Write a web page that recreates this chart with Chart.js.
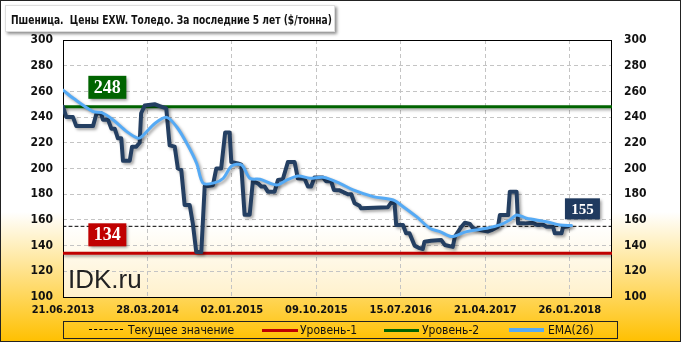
<!DOCTYPE html>
<html>
<head>
<meta charset="utf-8">
<script src="https://cdn.jsdelivr.net/npm/chart.js"></script>
<style>
    body { margin: 0; }
    #wrap {
        position: relative;
        width: 681px;
        height: 342px;
        background: linear-gradient(to bottom, #ffffff 0%, #ffffff 62%, #ffc000 100%);
        font-family: "DejaVu Sans Condensed", "DejaVu Sans", sans-serif;
    }
    #frame {
        position: absolute; left: 0; top: 0; right: 0; bottom: 0;
        border: 1px solid #222; pointer-events: none;
    }
    #chart { position: absolute; left: 0; top: 0; }
    #title {
        position: absolute; left: 5px; top: 5px; width: 323px; height: 25px;
        padding-left: 5px; background: #fff; border: 1px solid #ddd;
        box-shadow: 2px 2px 3px rgba(0, 0, 0, 0.45);
        line-height: 25px; color: #111; white-space: nowrap;
    }
    #title span {
        display: inline-block;
        font: bold 12.5px "DejaVu Sans Condensed", "DejaVu Sans", sans-serif;
        transform: scaleX(0.81);
        transform-origin: left center;
    }
    #legend {
        position: absolute; left: 63px; top: 321px; width: 553px; height: 16px;
        border: 1px solid #222; font-size: 12px; color: #111;
    }
    #legend span { position: absolute; top: 0; line-height: 16px; white-space: nowrap; }
    #legend i { position: absolute; display: block; }
</style>
</head>
<body>
<div id="wrap">
    <canvas id="chart" width="681" height="342"></canvas>
    <div id="title"><span>Пшеница.&nbsp; Цены EXW. Толедо. За последние 5 лет ($/тонна)</span></div>
    <div id="legend">
        <i style="left:25px;top:7px;width:34px;border-top:1px dashed #000"></i>
        <span style="left:64px">Текущее значение</span>
        <i style="left:198px;top:7px;width:36px;border-top:3px solid #c00000"></i>
        <span style="left:236px">Уровень-1</span>
        <i style="left:320px;top:7px;width:35px;border-top:3px solid #006400"></i>
        <span style="left:358px">Уровень-2</span>
        <i style="left:445px;top:6px;width:35px;border-top:4px solid #55aaf5"></i>
        <span style="left:484px">EMA(26)</span>
    </div>
    <div id="frame"></div>
</div>
<script>
// x axis is weeks since 21.06.2013
const weekTicks = [0, 40, 80, 120, 160, 200, 240];
const tickLabels = ['21.06.2013', '28.03.2014', '02.01.2015', '09.10.2015', '15.07.2016', '21.04.2017', '26.01.2018'];

// price, $/t (at its corners)
const priceWeeks = [0, 1.6, 4.7, 6.3, 14.2, 15.9, 18, 18.9, 21.3, 22.9, 24.5, 26, 27.6, 28.4, 31.6, 32.7, 34.7, 36.3, 37, 38.7,
    43.4, 45.8, 48.9, 50.5, 52.9, 54.4, 56, 57.6, 60, 61.5, 63.1, 65.5, 67.1, 71, 72.6, 74.9, 76.8, 78.9, 79.7, 82.8,
    84.4, 86, 88.4, 89.9, 92.3, 93.9, 95.5, 97, 100.2, 101.8, 104.1, 106.5, 109.7, 111.2, 114.4, 116, 117.5, 119.1, 123.1, 124.6,
    127, 128.3, 131, 134.9, 136.5, 138.1, 140.4, 141.2, 153.8, 155.4, 157, 157.8, 161, 162.5, 164.1, 166.5, 168.9, 170.4, 171.2, 174.3,
    179.1, 180.8, 184.6, 185.6, 188.7, 190.3, 192.7, 194.2, 198.2, 201.3, 202.9, 206, 206.9, 210.8, 211.6, 214.8, 215.5, 218.7, 222.6, 224.2,
    227.4, 229, 232.1, 232.9, 236.1, 236.8, 239.2];
const priceValues = [248, 240, 240, 233, 233, 243, 243, 238, 238, 231, 231, 223.5, 223.5, 206, 206, 217, 217, 220, 243, 249,
    250, 248.6, 246.8, 218, 217, 200, 199, 171.6, 171.6, 157, 135, 135, 186, 187, 200, 200, 228, 228, 205, 204,
    203, 164, 164, 190, 188.5, 186, 186, 182, 182, 191, 191.6, 205, 205, 192.4, 192, 186, 186, 193, 193, 190,
    190, 183.3, 183, 180, 180, 173, 171, 169, 169.8, 173.4, 173, 156, 156, 149.6, 149.6, 140, 138, 137.4, 143, 143.8,
    144.4, 140.5, 139, 147, 154.7, 157.8, 156.8, 153.5, 152, 151, 152, 154.7, 163.8, 163.8, 182, 182, 157.3, 157.3, 157.8, 156.2,
    156.2, 154.7, 154.7, 149.6, 149.6, 154.3, 155];

// EMA(26)
const emaWeeks = [0, 4.9, 14.3, 18.3, 23.8, 30.2, 35.6, 37.3, 43.6, 49.1, 53.8, 58.6, 63.3, 66.4, 72, 75.9, 79.9, 84.6, 88.5, 93.3,
    101.2, 105.9, 111.4, 116.9, 123.2, 131.1, 137.4, 146.9, 156.4, 161.1, 167.4, 173.7, 178.5, 184, 191.1, 200.6, 206.9, 211.6, 214.8, 219.5,
    229, 235.3, 240.8];
const emaValues = [261, 254.6, 244.2, 243.4, 237.7, 228.7, 223.5, 224.8, 235.2, 239.8, 232.5, 219.6, 204, 188.5, 189, 192.4, 202, 202.7, 192.4, 191.6,
    187.2, 191, 194.2, 192.4, 193.2, 188.5, 183.3, 178.1, 175.5, 170.3, 162.5, 153.5, 150.9, 147, 150.9, 153.5, 156.1, 159.9, 163.8, 161.3,
    158.6, 156.1, 155.6];

const level1 = 134;
const level2 = 248;
const currentValue = 155;
const axisEnd = 260;

document.addEventListener('DOMContentLoaded', () => {
    const toPoints = (xs, ys) => xs.map((x, i) => ({ x: x, y: ys[i] }));
    const flat = (v) => [{ x: 0, y: v }, { x: axisEnd, y: v }];

    // soft drop shadow under the lines
    const shadowPlugin = {
        id: 'shadow',
        beforeDatasetDraw(chart, args) {
            const ctx = chart.ctx;
            ctx.save();
            if (args.index === 0) return;
            ctx.shadowColor = 'rgba(0,0,0,0.35)';
            ctx.shadowBlur = 3;
            ctx.shadowOffsetX = 2;
            ctx.shadowOffsetY = 2;
        },
        afterDatasetDraw(chart) {
            chart.ctx.restore();
        }
    };

    function labelBox(ctx, text, cx, bottom, w, h, fill, size) {
        ctx.save();
        ctx.shadowColor = 'rgba(0,0,0,0.4)';
        ctx.shadowBlur = 3;
        ctx.shadowOffsetX = 2;
        ctx.shadowOffsetY = 2;
        ctx.fillStyle = fill;
        ctx.fillRect(cx - w / 2, bottom - h, w, h);
        ctx.restore();
        ctx.fillStyle = '#fff';
        ctx.font = 'bold ' + size + 'px "Liberation Serif", "DejaVu Serif", serif';
        ctx.textAlign = 'center';
        ctx.textBaseline = 'middle';
        ctx.fillText(text, cx, bottom - h / 2 + 1);
    }

    const decorPlugin = {
        id: 'decor',
        beforeDraw(chart) {
            const { ctx, chartArea: a } = chart;
            const g = ctx.createLinearGradient(0, a.top, 0, a.bottom);
            g.addColorStop(0, '#ffffff');
            g.addColorStop(0.72, '#ffffff');
            g.addColorStop(1, '#fff1cc');
            ctx.fillStyle = g;
            ctx.fillRect(a.left, a.top, a.right - a.left, a.bottom - a.top);
        },
        beforeDatasetsDraw(chart) {
            const { ctx, chartArea: a } = chart;
            ctx.save();
            ctx.strokeStyle = '#000';
            ctx.lineWidth = 1;
            ctx.strokeRect(a.left + 0.5, a.top + 0.5, a.right - a.left - 1, a.bottom - a.top);
            ctx.restore();
        },
        afterDatasetsDraw(chart) {
            const { ctx, chartArea: a } = chart;
            const xs = chart.scales.x;
            const ys = chart.scales.y;
            ctx.save();
            labelBox(ctx, String(level2), xs.getPixelForValue(21), ys.getPixelForValue(level2) - 8, 38, 23, '#006400', 18);
            labelBox(ctx, String(level1), xs.getPixelForValue(21), ys.getPixelForValue(level1) - 7, 38, 23, '#c00000', 18);
            labelBox(ctx, String(currentValue), xs.getPixelForValue(246), ys.getPixelForValue(currentValue) - 7, 35, 21, '#1f3a5f', 15);
            ctx.fillStyle = '#222';
            ctx.font = '26px "Liberation Sans", Arial, sans-serif';
            ctx.textAlign = 'left';
            ctx.textBaseline = 'alphabetic';
            ctx.fillText('IDK.ru', a.left + 5, a.bottom - 9);
            ctx.restore();
        }
    };

    const tickFont = { family: '"DejaVu Sans Condensed", "DejaVu Sans", sans-serif', size: 12, weight: 'bold' };

    new Chart(document.getElementById('chart'), {
        type: 'line',
        data: {
            datasets: [
                { data: flat(currentValue), borderColor: '#000', borderWidth: 1, borderDash: [3, 3], order: 5 },
                { data: flat(level1), borderColor: '#c00000', borderWidth: 3, order: 4 },
                { data: flat(level2), borderColor: '#006400', borderWidth: 3, order: 4 },
                { data: toPoints(priceWeeks, priceValues), borderColor: '#243f62', borderWidth: 4, order: 2 },
                { data: toPoints(emaWeeks, emaValues), borderColor: '#55aaf5', borderWidth: 3, tension: 0.3, order: 1 }
            ]
        },
        options: {
            responsive: false,
            animation: false,
            devicePixelRatio: 1,
            elements: {
                point: { radius: 0 },
                line: { borderJoinStyle: 'round', borderCapStyle: 'round', fill: false }
            },
            layout: { padding: { top: 40, left: 0, right: 0, bottom: 0 } },
            plugins: {
                legend: { display: false },
                title: { display: false },
                tooltip: { enabled: false }
            },
            scales: {
                x: {
                    type: 'linear',
                    min: 0,
                    max: axisEnd,
                    afterBuildTicks: (scale) => { scale.ticks = weekTicks.map(v => ({ value: v })); },
                    afterFit: (scale) => { scale.height = 45; },
                    ticks: {
                        autoSkip: false,
                        maxRotation: 0,
                        padding: 7,
                        color: '#111',
                        font: { ...tickFont, size: 11 },
                        callback: (v) => tickLabels[weekTicks.indexOf(v)]
                    },
                    grid: { color: '#c4c4c4', drawTicks: false },
                    border: { display: false, dash: [4, 3] }
                },
                y: {
                    position: 'left',
                    min: 100,
                    max: 300,
                    afterFit: (scale) => { scale.width = 63; },
                    ticks: { stepSize: 20, padding: 10, color: '#111', font: tickFont },
                    grid: { color: '#c4c4c4', drawTicks: false },
                    border: { display: false, dash: [4, 3] }
                },
                y2: {
                    position: 'right',
                    min: 100,
                    max: 300,
                    afterFit: (scale) => { scale.width = 69; },
                    ticks: { stepSize: 20, padding: 12, color: '#111', font: tickFont },
                    grid: { display: false, drawTicks: false },
                    border: { display: false }
                }
            }
        },
        plugins: [decorPlugin, shadowPlugin]
    });
});
</script>
</body>
</html>
